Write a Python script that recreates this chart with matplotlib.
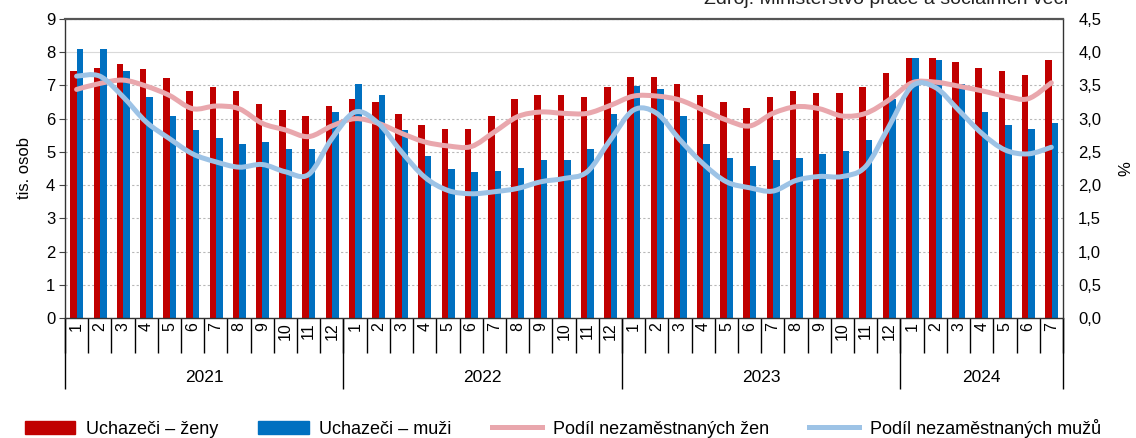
import numpy as np
import matplotlib
matplotlib.use("Agg")
import matplotlib.pyplot as plt
from matplotlib.path import Path
from matplotlib.patches import PathPatch, Patch
from matplotlib.lines import Line2D

plt.rcParams['font.family'] = ['Liberation Sans', 'DejaVu Sans']

# data
years = ["2021", "2022", "2023", "2024"]
months_per_year = [12, 12, 12, 7]
months = [str(m) for n in months_per_year for m in range(1, n + 1)]

# uchazeci (tis. osob)
zeny = [7.44, 7.54, 7.66, 7.49, 7.21, 6.83, 6.94, 6.83, 6.43, 6.26, 6.09, 6.38,
        6.60, 6.49, 6.15, 5.82, 5.70, 5.70, 6.09, 6.60, 6.71, 6.71, 6.66, 6.94,
        7.26, 7.26, 7.05, 6.71, 6.49, 6.32, 6.66, 6.82, 6.76, 6.76, 6.94, 7.38,
        7.82, 7.82, 7.71, 7.54, 7.43, 7.32, 7.76]
muzi = [8.09, 8.09, 7.44, 6.66, 6.09, 5.65, 5.43, 5.25, 5.31, 5.09, 5.09, 6.20,
        7.05, 6.71, 5.65, 4.87, 4.48, 4.38, 4.42, 4.53, 4.75, 4.75, 5.09, 6.15,
        6.98, 6.88, 6.09, 5.25, 4.81, 4.59, 4.75, 4.81, 4.93, 5.03, 5.37, 6.60,
        7.82, 7.76, 7.05, 6.20, 5.81, 5.70, 5.87]
# podil nezamestnanych (%)
podil_zen = [3.44, 3.53, 3.58, 3.49, 3.35, 3.15, 3.19, 3.15, 2.93, 2.83, 2.73, 2.89,
             3.00, 2.93, 2.78, 2.65, 2.59, 2.58, 2.80, 3.03, 3.10, 3.08, 3.08, 3.20,
             3.34, 3.34, 3.28, 3.13, 2.98, 2.89, 3.08, 3.18, 3.15, 3.04, 3.08, 3.28,
             3.54, 3.55, 3.49, 3.42, 3.34, 3.30, 3.54]
podil_muzu = [3.64, 3.64, 3.33, 2.95, 2.70, 2.47, 2.35, 2.27, 2.31, 2.20, 2.16, 2.70,
              3.10, 2.93, 2.50, 2.12, 1.92, 1.87, 1.90, 1.95, 2.05, 2.10, 2.20, 2.68,
              3.13, 3.08, 2.68, 2.32, 2.05, 1.96, 1.91, 2.07, 2.13, 2.13, 2.28, 2.88,
              3.49, 3.47, 3.13, 2.78, 2.53, 2.47, 2.57]

RED = "#C00000"
BLUE = "#0070C0"
PINK = "#E9A7AD"
LBLUE = "#9DC3E6"


def smooth_path(xs, ys):
    # Catmull-Rom curve as cubic bezier segments (like Excel smoothed line)
    pts = np.column_stack([xs, ys]).astype(float)
    n = len(pts)
    verts = [pts[0]]
    codes = [Path.MOVETO]
    for i in range(n - 1):
        p0 = pts[max(i - 1, 0)]
        p1 = pts[i]
        p2 = pts[i + 1]
        p3 = pts[min(i + 2, n - 1)]
        verts += [p1 + (p2 - p0) / 6, p2 - (p3 - p1) / 6, p2]
        codes += [Path.CURVE4] * 3
    return Path(verts, codes)


x = np.arange(len(months))

fig = plt.figure(figsize=(11.36, 4.38), dpi=100)
ax = fig.add_axes([0.0572, 0.274, 0.8785, 0.6826])

w = 0.28
ax.bar(x - 0.13, zeny, width=w, color=RED, zorder=2)
ax.bar(x + 0.15, muzi, width=w, color=BLUE, zorder=2)

ax.set_xlim(-0.5, len(months) - 0.5)
ax.set_ylim(0, 9)
ax.set_yticks(range(0, 10))
ax.tick_params(axis='y', labelsize=12, length=4, pad=3, color="#444444")
ax.set_ylabel("tis. osob", fontsize=12, labelpad=10)
ax.yaxis.grid(True, color="#B8B8B8", linestyle=(0, (2, 2)), linewidth=0.8, zorder=0)
ax.set_axisbelow(True)
gl = ax.yaxis.get_gridlines()
gl[8].set_linestyle("-")
gl[8].set_color("#D9D9D9")

ax.set_xticks(x)
ax.set_xticklabels(months, rotation=90, fontsize=11.5)
ax.tick_params(axis='x', length=0, pad=3)
for s in ax.spines.values():
    s.set_color("#333333")
    s.set_linewidth(1)
ax.spines['top'].set_linewidth(1.6)
ax.spines['top'].set_color("#555555")

# separators under the x axis
trans = ax.get_xaxis_transform()
ax.vlines(np.arange(-0.5, len(months)), 0, -0.117, transform=trans,
          color="black", linewidth=1, clip_on=False)
bounds = np.concatenate([[0], np.cumsum(months_per_year)]) - 0.5
ax.vlines(bounds, 0, -0.237, transform=trans, color="black", linewidth=1, clip_on=False)
for i, yr in enumerate(years):
    ax.text((bounds[i] + bounds[i + 1]) / 2, -0.2, yr, transform=trans,
            ha="center", va="center", fontsize=12.5)

ax2 = ax.twinx()
ax2.set_ylim(0, 4.5)
ticks2 = np.arange(0, 4.51, 0.5)
ax2.set_yticks(ticks2)
ax2.set_yticklabels([f"{t:.1f}".replace(".", ",") for t in ticks2])
ax2.tick_params(axis='y', labelsize=12, length=0, pad=11)
ax2.set_ylabel("%", fontsize=12, labelpad=12)
for s in ax2.spines.values():
    s.set_visible(False)

ax2.add_patch(PathPatch(smooth_path(x, podil_zen), facecolor="none", edgecolor=PINK,
                        linewidth=3.6, capstyle="round", joinstyle="round", zorder=3))
ax2.add_patch(PathPatch(smooth_path(x, podil_muzu), facecolor="none", edgecolor=LBLUE,
                        linewidth=3.6, capstyle="round", joinstyle="round", zorder=3))

# source note, partly cut by the top edge as in the original
fig.text(0.9405, 1 - 4.5 / 438, "Zdroj: Ministerstvo práce a sociálních věcí",
         ha="right", va="baseline", fontsize=14, color="#222222")

handles = [Patch(color=RED), Patch(color=BLUE),
           Line2D([], [], color=PINK, linewidth=3.6),
           Line2D([], [], color=LBLUE, linewidth=3.6)]
labels = ["Uchazeči – ženy", "Uchazeči – muži", "Podíl nezaměstnaných žen",
          "Podíl nezaměstnaných mužů"]
fig.legend(handles, labels, loc="center", bbox_to_anchor=(0.4956, 1 - 428 / 438), ncol=4,
           frameon=False, fontsize=13, handlelength=2.8, handleheight=0.75,
           handletextpad=0.6, columnspacing=2.2)

fig.savefig("out.png", dpi=100)
